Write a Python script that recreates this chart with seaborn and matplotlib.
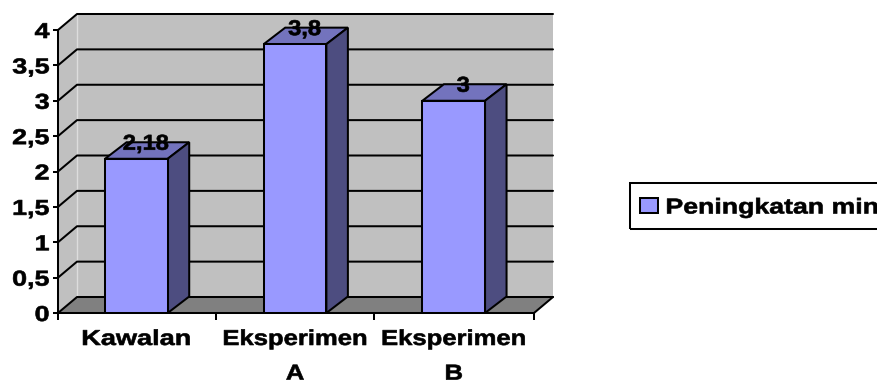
import matplotlib
matplotlib.use("Agg")
import matplotlib.pyplot as plt
import matplotlib.patheffects as pe
from matplotlib.patches import Polygon, Rectangle
from matplotlib.transforms import Affine2D
import pandas as pd
import seaborn as sns

categories = ["Kawalan", "Eksperimen\nA", "Eksperimen\nB"]
values = [2.18, 3.8, 3.0]
series_name = "Peningkatan min"
y_ticks = [0, 0.5, 1, 1.5, 2, 2.5, 3, 3.5, 4]
y_tick_labels = ["0", "0,5", "1", "1,5", "2", "2,5", "3", "3,5", "4"]
value_labels = ["2,18", "3,8", "3"]

W, H = 878, 385
FRONT_LEFT, FRONT_RIGHT, FRONT_BOTTOM, FRONT_TOP = 58, 534, 313, 30
PX_X = (FRONT_RIGHT - FRONT_LEFT) / 3
PX_Y = (FRONT_BOTTOM - FRONT_TOP) / 4
WALL_DX, WALL_DY = 19 / PX_X, 16 / PX_Y
BAR_DX, BAR_DY = 21.5 / PX_X, 16.5 / PX_Y
LW = 1.45
FS = 15.5

WALL, FLOOR, FRONT, TOP, SIDE = "#C0C0C0", "#808080", "#9999FF", "#7373BD", "#4D4D80"


class StretchX(pe.AbstractPathEffect):
    """Widens glyphs horizontally about a display x and thickens them slightly."""

    def __init__(self, factor, cx=None):
        super().__init__()
        self.factor, self.cx = factor, cx

    def draw_path(self, renderer, gc, tpath, affine, rgbFace=None):
        cx = affine.transform((0, 0))[0] if self.cx is None else self.cx
        stretched = affine + Affine2D().translate(-cx, 0).scale(self.factor, 1).translate(cx, 0)
        gc.set_linewidth(0.45)
        gc.set_foreground("black")
        renderer.draw_path(gc, tpath, stretched, rgbFace)


sns.set_theme(style="white")
plt.rcParams["font.family"] = ["Liberation Sans", "DejaVu Sans"]
plt.rcParams["font.weight"] = "bold"

fig = plt.figure(figsize=(W / 100, H / 100), dpi=100, facecolor="white")
ax = fig.add_axes([FRONT_LEFT / W, 1 - FRONT_BOTTOM / H,
                   (FRONT_RIGHT - FRONT_LEFT) / W, (FRONT_BOTTOM - FRONT_TOP) / H])
ax.patch.set_visible(False)

df = pd.DataFrame({"group": categories, "value": values})
sns.barplot(data=df, x="group", y="value", color=FRONT, saturation=1, width=0.395,
            edgecolor="black", linewidth=LW, label=series_name, ax=ax, zorder=3)
x0, x1 = -0.494, 2.506
ax.set_xlim(x0, x1)
ax.set_ylim(0, 4)
ax.set_xlabel("")
ax.set_ylabel("")

# Back wall, side wall and floor of the box behind the columns
ax.add_patch(Polygon([(x0 + WALL_DX, WALL_DY), (x1 + WALL_DX, WALL_DY),
                      (x1 + WALL_DX, 4 + WALL_DY), (x0 + WALL_DX, 4 + WALL_DY)],
                     facecolor=WALL, edgecolor="none", clip_on=False, zorder=0.5))
ax.add_patch(Polygon([(x0, 0), (x0 + WALL_DX, WALL_DY), (x0 + WALL_DX, 4 + WALL_DY), (x0, 4)],
                     facecolor=WALL, edgecolor="none", clip_on=False, zorder=0.5))
ax.add_patch(Polygon([(x0, 0), (x1, 0), (x1 + WALL_DX, WALL_DY), (x0 + WALL_DX, WALL_DY)],
                     facecolor=FLOOR, edgecolor="none", clip_on=False, zorder=0.6))
ax.plot([x0 + WALL_DX] * 2, [WALL_DY, 4 + WALL_DY], color="#DDDDDD", lw=1,
        clip_on=False, zorder=0.7)
for tick in y_ticks:
    ax.plot([x0, x0 + WALL_DX, x1 + WALL_DX], [tick, tick + WALL_DY, tick + WALL_DY],
            color="black", lw=LW, clip_on=False, zorder=0.8)
ax.plot([x1, x1 + WALL_DX], [0, WALL_DY], color="black", lw=LW, clip_on=False, zorder=0.8)

# Top and right faces of each column, taken from the bars seaborn drew
for bar in ax.patches:
    if bar.get_zorder() != 3:
        continue
    left, right, top = bar.get_x(), bar.get_x() + bar.get_width(), bar.get_height()
    ax.add_patch(Polygon([(left, top), (right, top), (right + BAR_DX, top + BAR_DY),
                          (left + BAR_DX, top + BAR_DY)], closed=True, facecolor=TOP,
                         edgecolor="black", lw=LW, clip_on=False, zorder=2.6))
    ax.add_patch(Polygon([(right, 0), (right + BAR_DX, BAR_DY), (right + BAR_DX, top + BAR_DY),
                          (right, top)], closed=True, facecolor=SIDE,
                         edgecolor="black", lw=LW, clip_on=False, zorder=2.6))

for side in ("top", "right"):
    ax.spines[side].set_visible(False)
for side in ("left", "bottom"):
    ax.spines[side].set_visible(True)
    ax.spines[side].set_color("black")
    ax.spines[side].set_linewidth(LW)

# Axis ticks: category boundaries carry the marks, centres carry the labels
ax.set_xticks([x0, 0.5, 1.5, x1], ["", "", "", ""])
ax.set_xticks([0, 1, 2], categories, minor=True)
ax.set_yticks(y_ticks, y_tick_labels)
ax.tick_params(axis="x", which="major", bottom=True, length=5, width=LW, color="black")
ax.tick_params(axis="x", which="minor", bottom=True, length=0, pad=11.5, labelsize=FS,
               labelcolor="black")
ax.tick_params(axis="y", which="major", left=True, length=3.5, width=LW, color="black",
               pad=2.5, labelsize=FS, labelcolor="black")

fig.canvas.draw()
for lab, i, factor in zip(ax.get_xticklabels(minor=True), range(3), (1.26, 1.19, 1.19)):
    lab.set_fontweight("bold")
    lab.set_linespacing(1.85)
    lab.set_path_effects([StretchX(factor, ax.transData.transform((i, 0))[0])])
y_right = FRONT_LEFT - 8
for lab in ax.get_yticklabels():
    lab.set_fontweight("bold")
    lab.set_path_effects([StretchX(1.25, y_right)])

# Value labels sitting over the top face of each column
for i, (val, text) in enumerate(zip(values, value_labels)):
    ann = ax.annotate(text, (i, val), xytext=(6.8, 6.5), textcoords="offset points",
                      ha="center", va="baseline", fontsize=FS, fontweight="bold",
                      color="black", zorder=5, annotation_clip=False)
    cx = ax.transData.transform((i, val))[0] + 6.8 / 0.72
    ann.set_path_effects([StretchX(1.1, cx)])

# Legend box runs off the right edge of the figure
fig.add_artist(Rectangle((630 / W, 1 - 229 / H), 300 / W, 46 / H, transform=fig.transFigure,
                         facecolor="none", edgecolor="black", lw=LW, zorder=1))
leg = ax.legend(loc="center left", bbox_to_anchor=(640 / W, 1 - 208 / H),
                bbox_transform=fig.transFigure, borderaxespad=0, borderpad=0, frameon=False,
                fontsize=FS, handlelength=0.85, handleheight=0.7, handletextpad=0.33)
leg.set_zorder(6)
for text in leg.get_texts():
    text.set_fontweight("bold")
    text.set_color("black")
    text.set_path_effects([StretchX(1.24)])

fig.savefig("out.png", dpi=100)
